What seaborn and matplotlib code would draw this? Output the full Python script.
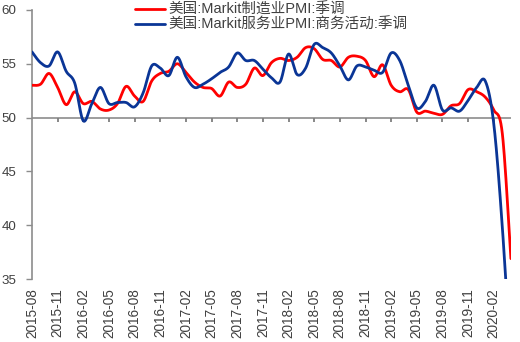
import numpy as np
import pandas as pd
import matplotlib
matplotlib.use("Agg")
import matplotlib.pyplot as plt
import seaborn as sns

# Monthly PMI readings, 2015-08 .. 2020-04
months = pd.period_range("2015-08", "2020-04", freq="M").strftime("%Y-%m").tolist()

manufacturing = [53.0, 53.1, 54.1, 52.8, 51.2,
                 52.4, 51.3, 51.5, 50.8, 50.7, 51.3, 52.9, 52.0, 51.5, 53.4, 54.1, 54.3,
                 55.0, 54.2, 53.3, 52.8, 52.7, 52.0, 53.3, 52.8, 53.1, 54.6, 53.9, 55.1,
                 55.5, 55.3, 55.6, 56.5, 56.4, 55.4, 55.3, 54.7, 55.6, 55.7, 55.3, 53.8,
                 54.9, 53.0, 52.4, 52.6, 50.5, 50.6, 50.4, 50.3, 51.1, 51.3, 52.6, 52.4,
                 51.9, 50.7, 48.5, 36.9]

services = [56.1, 55.1, 54.8, 56.1, 54.3,
            53.2, 49.7, 51.3, 52.8, 51.3, 51.4, 51.4, 51.0, 52.3, 54.8, 54.6, 53.9,
            55.6, 53.8, 52.8, 53.1, 53.6, 54.2, 54.7, 56.0, 55.3, 55.3, 54.5, 53.7,
            53.3, 55.9, 54.0, 54.6, 56.8, 56.5, 56.0, 54.8, 53.5, 54.8, 54.7, 54.4,
            54.2, 56.0, 55.3, 53.0, 50.9, 51.5, 53.0, 50.7, 50.9, 50.6, 51.6, 52.8,
            53.4, 49.4, 39.8, 27.0]

series_names = ["美国:Markit制造业PMI:季调", "美国:Markit服务业PMI:商务活动:季调"]
series_colors = ["#FF0000", "#0A3596"]

tick_pos = list(range(0, len(months), 3))
tick_labels = [months[i] for i in tick_pos]


def smooth_curve(values, steps=24):
    """Cubic Bezier smoothing through every point (Catmull-Rom style)."""
    y = np.asarray(values, dtype=float)
    x = np.arange(len(y), dtype=float)
    pts = np.column_stack([x, y])
    padded = np.vstack([pts[0], pts, pts[-1]])
    out = []
    t = np.linspace(0, 1, steps, endpoint=False)[:, None]
    for i in range(len(pts) - 1):
        p0, p1, p2, p3 = padded[i], padded[i + 1], padded[i + 2], padded[i + 3]
        c1 = p1 + (p2 - p0) / 6.0
        c2 = p2 - (p3 - p1) / 6.0
        seg = ((1 - t) ** 3) * p1 + 3 * ((1 - t) ** 2) * t * c1 + 3 * (1 - t) * t ** 2 * c2 + t ** 3 * p2
        out.append(seg)
    out.append(pts[-1][None, :])
    out = np.vstack(out)
    return out[:, 0], out[:, 1]


sns.set_style("white")
plt.rcParams["font.family"] = ["Liberation Sans", "Noto Sans CJK SC", "DejaVu Sans"]

fig = plt.figure(figsize=(5.2, 3.42), dpi=100)
ax = fig.add_axes([0.0615, 0.184, 0.921, 0.787])

frames = []
for name, vals in zip(series_names, [manufacturing, services]):
    sx, sy = smooth_curve(vals)
    frames.append(pd.DataFrame({"x": sx, "y": sy, "series": name}))
df = pd.concat(frames, ignore_index=True)

grey = "#8C8C8C"
text_col = "#404040"

# horizontal axis line crossing at 50, with short tick marks below it
axis_cross = 50
ax.axhline(axis_cross, color=grey, linewidth=1.2, zorder=1)
ax.vlines(tick_pos[1:], axis_cross - 0.45, axis_cross, color="#7F7F7F",
          linewidth=1.3, zorder=2)

sns.lineplot(data=df, x="x", y="y", hue="series", palette=series_colors,
             hue_order=series_names, linewidth=2.0, sort=False, ax=ax,
             estimator=None, zorder=3)

ax.set_xlim(0, len(months) - 1)
ax.set_ylim(35, 60)
ax.set_yticks([35, 40, 45, 50, 55, 60])
ax.set_xlabel("")
ax.set_ylabel("")

for side in ["top", "right", "bottom"]:
    ax.spines[side].set_visible(False)
ax.spines["left"].set_color(grey)
ax.spines["left"].set_linewidth(1.2)
ax.tick_params(axis="y", direction="out", length=4, color=grey, width=1.0,
               labelsize=9.6, labelcolor=text_col, pad=7, left=True)

# category labels along the bottom, no tick marks
ax.set_xticks(tick_pos)
ax.set_xticklabels(tick_labels, rotation=90, fontsize=9.8, color=text_col)
ax.tick_params(axis="x", length=0, pad=6.5)

leg = ax.legend(loc="upper left", bbox_to_anchor=(135 / 520, 0.991),
                bbox_transform=fig.transFigure, frameon=False,
                fontsize=10.5, handlelength=2.05, handletextpad=0.27,
                labelspacing=0.05, borderaxespad=0.0, borderpad=0.0)
for t in leg.get_texts():
    t.set_color(text_col)
for line in leg.get_lines():
    line.set_linewidth(2.0)

fig.savefig("out.png", dpi=100)
